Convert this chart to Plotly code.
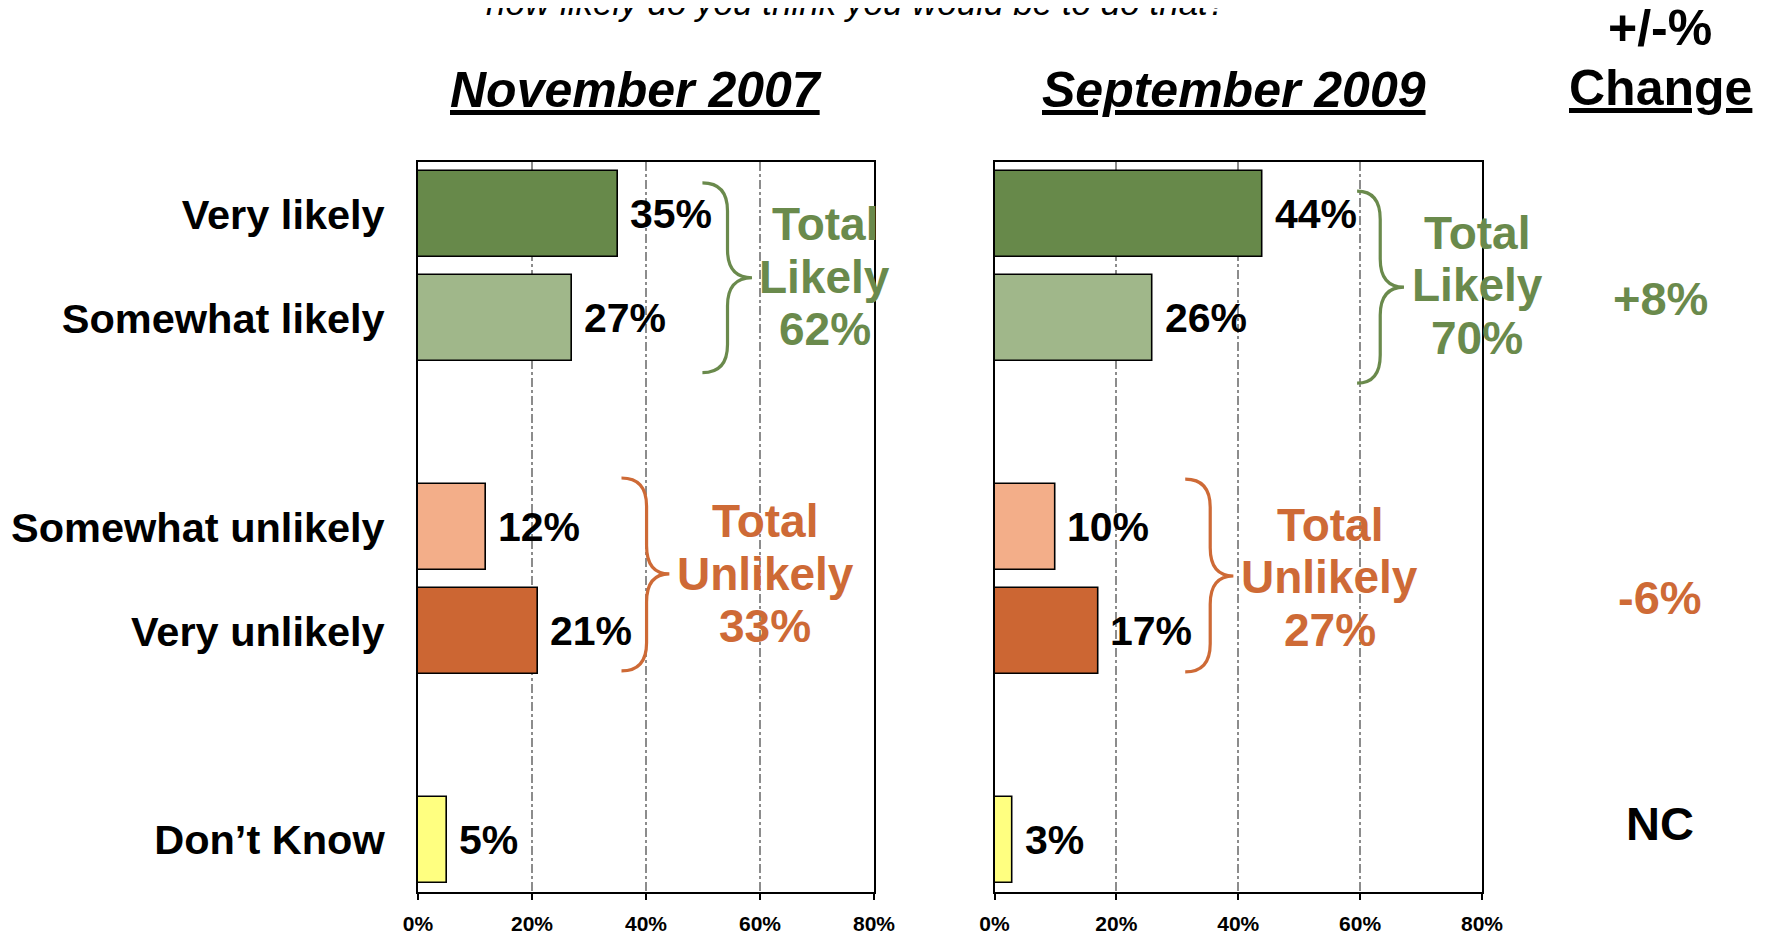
import plotly.graph_objects as go

# ---------------- data ----------------
categories = ["Very likely", "Somewhat likely", "Somewhat unlikely", "Very unlikely", "Don’t Know"]
nov_2007 = [35, 27, 12, 21, 5]
sep_2009 = [44, 26, 10, 17, 3]
panel_titles = ["November 2007", "September 2009"]
x_ticks = [0, 20, 40, 60, 80]
x_tick_labels = ["0%", "20%", "40%", "60%", "80%"]
change_labels = ["+8%", "-6%", "NC"]
group_names = ["Likely", "Unlikely"]
subtitle = "how likely do you think you would be to do that?"
change_header = ["+/-%", "Change"]

# ---------------- styles ----------------
FONT = "Liberation Sans, Arial, Helvetica, sans-serif"
bar_colors = ["#67894A", "#A0B78A", "#F3AE89", "#CC6633", "#FFFF80"]
GREEN = "#6A8A4C"
ORANGE = "#CE6A36"
group_colors = [GREEN, ORANGE]

# page body margin compensation
OFF = 8
W, H = 1772 - OFF, 933 - OFF


def px(x):
    return (x - OFF) / W


def py(y):
    return 1 - (y - OFF) / H


# row slots (with blank gaps between groups)
row_order = ["Very likely", "Somewhat likely", None, "Somewhat unlikely", "Very unlikely", None, "Don’t Know"]
pos = {c: i for i, c in enumerate(row_order) if c is not None}

y_dom = [py(892), py(162)]
x_doms = [[px(418), px(874)], [px(994.5), px(1482)]]

fig = go.Figure()
panels = [nov_2007, sep_2009]
axis_ids = [("x", "y"), ("x2", "y2")]

for vals, (xa, ya) in zip(panels, axis_ids):
    fig.add_trace(go.Bar(
        x=vals, y=[pos[c] for c in categories], orientation="h",
        width=0.825, xaxis=xa, yaxis=ya,
        marker=dict(color=bar_colors, line=dict(color="black", width=1.6)),
        hoverinfo="skip",
    ))

annotations = []
shapes = []

# value labels
for vals, (xa, ya) in zip(panels, axis_ids):
    for c, v in zip(categories, vals):
        annotations.append(dict(
            x=v, y=pos[c], xref=xa, yref=ya, text=f"<b>{v}%</b>",
            xanchor="left", yanchor="middle", xshift=10, showarrow=False,
            font=dict(size=41, color="black", family=FONT)))

# group totals + braces
group_text_pos = [
    [(71.4, 0.60), (60.9, 3.45)],
    [(79.2, 0.68), (55.0, 3.48)],
]
brace_geo = [
    [(49.9, 54.3, 58.6, -0.30, 1.52, 0.61), (35.7, 40.1, 44.1, 2.53, 4.38, 3.45)],
    [(59.5, 63.3, 67.2, -0.22, 1.62, 0.70), (31.3, 35.4, 39.2, 2.54, 4.39, 3.47)],
]
for p, (vals, (xa, ya)) in enumerate(zip(panels, axis_ids)):
    totals = [vals[0] + vals[1], vals[2] + vals[3]]
    for g in range(2):
        tx, ty = group_text_pos[p][g]
        lines = ["Total", group_names[g], f"{totals[g]}%"]
        for k, line in enumerate(lines):
            annotations.append(dict(
                x=tx, y=ty, xref=xa, yref=ya, text=f"<b>{line}</b>",
                xanchor="center", yanchor="middle", yshift=(1 - k) * 52.5,
                showarrow=False, font=dict(size=46, color=group_colors[g], family=FONT)))
        tip, stem, pt, top, bot, mid = brace_geo[p][g]
        r = 0.27
        path = (f"M {tip},{top} Q {stem},{top} {stem},{top + r} "
                f"L {stem},{mid - r} Q {stem},{mid} {pt},{mid} "
                f"Q {stem},{mid} {stem},{mid + r} "
                f"L {stem},{bot - r} Q {stem},{bot} {tip},{bot}")
        shapes.append(dict(type="path", path=path, xref=xa, yref=ya,
                           line=dict(color=group_colors[g], width=3.2)))

# panel titles
title_x = [px(636), px(1233.5)]
for t, tx in zip(panel_titles, title_x):
    annotations.append(dict(
        x=tx, y=py(90), xref="paper", yref="paper",
        text=f"<b><i><u>{t}</u></i></b>", xanchor="center", yanchor="middle",
        showarrow=False, font=dict(size=50, color="black", family=FONT)))

# change column
chg_x = px(1660)
annotations.append(dict(x=chg_x, y=py(28), xref="paper", yref="paper",
                        text=f"<b>{change_header[0]}</b>", xanchor="center", yanchor="middle",
                        showarrow=False, font=dict(size=50, color="black", family=FONT)))
annotations.append(dict(x=chg_x, y=py(88), xref="paper", yref="paper",
                        text=f"<b><u>{change_header[1]}</u></b>", xanchor="center", yanchor="middle",
                        showarrow=False, font=dict(size=50, color="black", family=FONT)))
chg_rows = [0.81, 3.68, 5.84]
chg_colors = [GREEN, ORANGE, "black"]
for lab, ry, col in zip(change_labels, chg_rows, chg_colors):
    annotations.append(dict(x=chg_x, y=ry, xref="paper", yref="y",
                            text=f"<b>{lab}</b>", xanchor="center", yanchor="middle",
                            showarrow=False, font=dict(size=47, color=col, family=FONT)))

# subtitle (partly cut off at the top, as in the original slide)
annotations.append(dict(x=px(857), y=1, xref="paper", yref="paper",
                        text=f"<i>{subtitle}</i>", xanchor="center", yanchor="middle",
                        yshift=6, showarrow=False,
                        font=dict(size=35, color="black", family=FONT)))

xaxis_common = dict(
    range=[0, 80], tickvals=x_ticks, ticktext=[f"<b>{t}</b>" for t in x_tick_labels],
    tickfont=dict(size=21, color="black", family=FONT),
    ticks="outside", ticklen=6, tickwidth=2, tickcolor="black",
    showgrid=True, gridcolor="#8C8C8C", gridwidth=1.5, griddash="dashdot",
    showline=True, linecolor="black", linewidth=2, mirror=True, zeroline=False,
    ticklabelstandoff=6, fixedrange=True, automargin=False,
)
yaxis_common = dict(
    range=[6.5, -0.5], domain=y_dom, showgrid=False, zeroline=False,
    showline=True, linecolor="black", linewidth=2, mirror=True, ticks="",
    fixedrange=True, automargin=False,
)

fig.update_layout(
    width=W, height=H, autosize=False, margin=dict(l=0, r=0, t=0, b=0, pad=0),
    paper_bgcolor="white", plot_bgcolor="white", showlegend=False,
    font=dict(family=FONT, color="black"),
    xaxis=dict(domain=x_doms[0], anchor="y", **xaxis_common),
    xaxis2=dict(domain=x_doms[1], anchor="y2", **xaxis_common),
    yaxis=dict(anchor="x", tickvals=[pos[c] for c in categories],
               ticktext=[f"<b>{c}</b>" for c in categories],
               tickfont=dict(size=41.5, color="black", family=FONT),
               ticklabelstandoff=23, **yaxis_common),
    yaxis2=dict(anchor="x2", showticklabels=False, **yaxis_common),
    annotations=annotations, shapes=shapes, bargap=0,
)

fig.write_html("out.html")
